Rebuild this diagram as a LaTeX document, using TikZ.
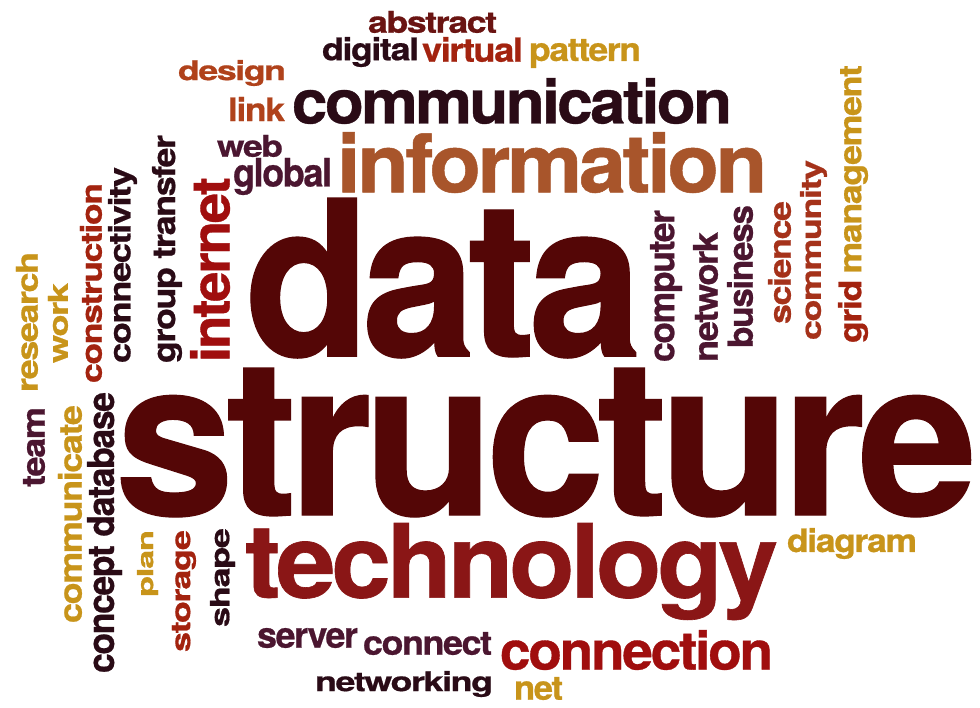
\documentclass[tikz,border=0pt]{standalone}
\usepackage{fontspec}
\setmainfont{TeX Gyre Heros}[BoldFeatures={LetterSpace=-4,FakeBold=0.6}]
\usepackage{graphicx}
\newlength\px \setlength\px{0.75pt}
\newlength\wcw \newlength\wch
\definecolor{maroonc}{HTML}{540606}
\definecolor{techc}{HTML}{8A1616}
\definecolor{redc}{HTML}{A00E0E}
\definecolor{rustc}{HTML}{A3230F}
\definecolor{orangec}{HTML}{B0421B}
\definecolor{scic}{HTML}{A5321A}
\definecolor{siennac}{HTML}{A8552B}
\definecolor{goldc}{HTML}{C8941A}
\definecolor{plumc}{HTML}{4B1630}
\definecolor{darkc}{HTML}{2A0B16}
\definecolor{abstc}{HTML}{6A1412}
\tikzset{wordbox/.style={inner sep=0pt, outer sep=0pt, anchor=north west}}
% horizontal word: name, left, top, right, bottom (px), colour, text
\newcommand\hword[7]{%
  \setlength\wcw{\dimexpr #4\px-#2\px\relax}%
  \setlength\wch{\dimexpr #5\px-#3\px\relax}%
  \node[wordbox, text=#6] (#1) at (#2,#3) {\resizebox*{\wcw}{\wch}{\bfseries #7}};
}
% vertical word (reads bottom to top)
\newcommand\vword[7]{%
  \setlength\wcw{\dimexpr #5\px-#3\px\relax}%
  \setlength\wch{\dimexpr #4\px-#2\px\relax}%
  \node[wordbox, text=#6] (#1) at (#2,#3) {\rotatebox{90}{\resizebox*{\wcw}{\wch}{\bfseries #7}}};
}
\begin{document}
\begin{tikzpicture}[x=0.75pt,y=-0.75pt]
\fill[white] (0,0) rectangle (980,707);
\useasboundingbox (0,0) rectangle (980,707);
% horizontal words
\hword{abstract}{368}{11}{497}{33}{abstc}{abstract}
\hword{digital}{322}{37}{419}{67}{darkc}{digital}
\hword{virtual}{422}{37}{523}{62}{rustc}{virtual}
\hword{pattern}{529}{39}{641}{68}{goldc}{pattern}
\hword{design}{178}{60}{286}{86}{orangec}{design}
\hword{link}{228}{97}{285}{121}{orangec}{link}
\hword{communication}{292}{78}{732}{124}{darkc}{communication}
\hword{web}{217}{135}{283}{157}{plumc}{web}
\hword{global}{233}{158}{332}{195}{plumc}{global}
\hword{information}{337}{132}{767}{193}{siennac}{information}
\hword{data}{245}{198}{642}{358}{maroonc}{data}
\hword{structure}{115}{368}{977}{517}{maroonc}{structure}
\hword{technology}{245}{523}{778}{620}{techc}{technology}
\hword{server}{257}{628}{358}{648}{plumc}{server}
\hword{connect}{363}{632}{492}{655}{plumc}{connect}
\hword{connection}{500}{630}{773}{670}{redc}{connection}
\hword{networking}{315}{671}{493}{697}{darkc}{networking}
\hword{net}{514}{677}{563}{700}{goldc}{net}
\hword{diagram}{787}{528}{917}{559}{goldc}{diagram}
% vertical words
\vword{research}{16}{252}{38}{392}{goldc}{research}
\vword{work}{48}{283}{68}{363}{goldc}{work}
\vword{team}{23}{407}{45}{487}{plumc}{team}
\vword{communicate}{58}{405}{82}{623}{goldc}{communicate}
\vword{construction}{80}{183}{102}{383}{rustc}{construction}
\vword{conceptdb}{87}{392}{122}{673}{darkc}{concept database}
\vword{connectivity}{108}{167}{137}{363}{darkc}{connectivity}
\vword{grouptransfer}{152}{135}{182}{363}{darkc}{group transfer}
\vword{internet}{190}{177}{230}{362}{redc}{internet}
\vword{plan}{137}{530}{158}{597}{goldc}{plan}
\vword{storage}{172}{530}{196}{652}{rustc}{storage}
\vword{shape}{210}{528}{235}{627}{darkc}{shape}
\vword{computer}{650}{210}{682}{362}{plumc}{computer}
\vword{network}{693}{232}{718}{362}{plumc}{network}
\vword{business}{727}{205}{753}{348}{plumc}{business}
\vword{science}{768}{201}{791}{324}{scic}{science}
\vword{community}{800}{160}{827}{340}{scic}{community}
\vword{gridmgmt}{838}{65}{868}{343}{rustc}{grid\,\textcolor{goldc}{management}}
\end{tikzpicture}
\end{document}
